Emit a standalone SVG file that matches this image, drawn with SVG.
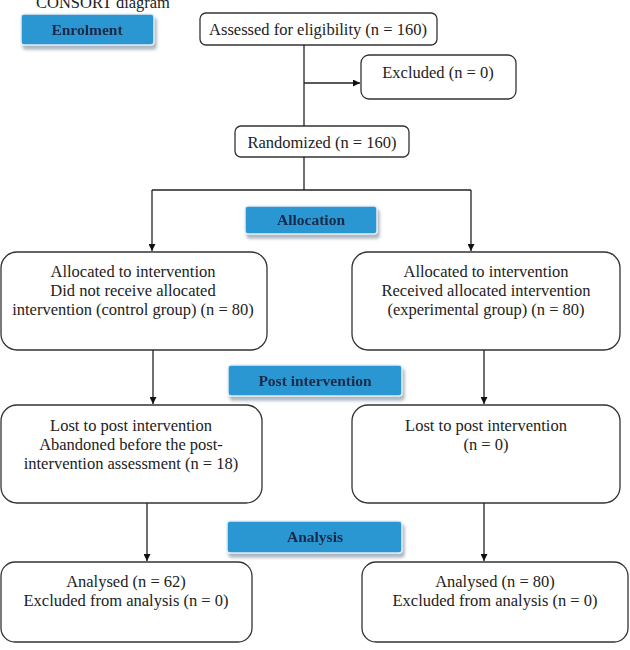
<svg xmlns="http://www.w3.org/2000/svg" width="630" height="650" viewBox="0 0 630 650">
<defs>
<marker id="ah" viewBox="0 0 10 10" refX="10" refY="5" markerWidth="7" markerHeight="7" orient="auto" markerUnits="userSpaceOnUse"><path d="M0,0 L10,5 L0,10 z" fill="#111"/></marker>
<filter id="sh" x="-10%" y="-20%" width="130%" height="160%"><feGaussianBlur in="SourceAlpha" stdDeviation="1.5"/><feOffset dx="2" dy="4" result="b"/><feFlood flood-color="#9aa6b2" flood-opacity="0.8"/><feComposite in2="b" operator="in"/><feMerge><feMergeNode/><feMergeNode in="SourceGraphic"/></feMerge></filter>
</defs>
<style>
.box{fill:#fff;stroke:#333;stroke-width:1.3}
.ph{fill:#2a97d3;stroke:#e6eef5;stroke-width:1.5}
.t{font-family:"Liberation Serif","Times New Roman",serif;font-size:16.5px;fill:#222;text-anchor:middle}
.pt{font-family:"Liberation Serif","Times New Roman",serif;font-size:15.5px;font-weight:bold;fill:#1b2a48;text-anchor:middle}
.c{fill:none;stroke:#222;stroke-width:1.3}
</style>
<rect width="630" height="650" fill="#fff"/>
<text class="t" x="103" y="8">CONSORT diagram</text>
<g id="enrolment" filter="url(#sh)"><rect class="ph" x="21" y="14" width="133" height="31" rx="3"/><text class="pt" x="87" y="35">Enrolment</text></g>
<g id="allocation" filter="url(#sh)"><rect class="ph" x="245" y="206" width="132" height="28" rx="3"/><text class="pt" x="311" y="225">Allocation</text></g>
<g id="post" filter="url(#sh)"><rect class="ph" x="228" y="365" width="174" height="31" rx="3"/><text class="pt" x="315" y="386">Post intervention</text></g>
<g id="analysis" filter="url(#sh)"><rect class="ph" x="227" y="521" width="175" height="32" rx="3"/><text class="pt" x="315" y="542">Analysis</text></g>
<g id="assessed"><rect class="box" x="200" y="13" width="237" height="32" rx="6"/><text class="t" x="318" y="35">Assessed for eligibility (n = 160)</text></g>
<g id="excluded"><rect class="box" x="361" y="55" width="155" height="44" rx="8"/><text class="t" x="438" y="78">Excluded (n = 0)</text></g>
<g id="randomized"><rect class="box" x="235" y="126" width="174" height="31" rx="6"/><text class="t" x="322" y="148">Randomized (n = 160)</text></g>
<g id="alloc-control"><rect class="box" x="1" y="252" width="266" height="98" rx="16"/><text class="t" x="133" y="277">Allocated to intervention</text><text class="t" x="133" y="296">Did not receive allocated</text><text class="t" x="133" y="315">intervention (control group) (n = 80)</text></g>
<g id="alloc-exp"><rect class="box" x="352" y="252" width="268" height="98" rx="16"/><text class="t" x="486" y="277">Allocated to intervention</text><text class="t" x="486" y="296">Received allocated intervention</text><text class="t" x="486" y="315">(experimental group) (n = 80)</text></g>
<g id="lost-control"><rect class="box" x="1" y="405" width="261" height="98" rx="16"/><text class="t" x="131" y="431">Lost to post intervention</text><text class="t" x="131" y="450">Abandoned before the post-</text><text class="t" x="131" y="469">intervention assessment (n = 18)</text></g>
<g id="lost-exp"><rect class="box" x="352" y="405" width="268" height="98" rx="16"/><text class="t" x="486" y="431">Lost to post intervention</text><text class="t" x="486" y="450">(n = 0)</text></g>
<g id="analysed-control"><rect class="box" x="1" y="562" width="251" height="80" rx="14"/><text class="t" x="126" y="587">Analysed (n = 62)</text><text class="t" x="126" y="606">Excluded from analysis (n = 0)</text></g>
<g id="analysed-exp"><rect class="box" x="362" y="562" width="266" height="80" rx="14"/><text class="t" x="495" y="587">Analysed (n = 80)</text><text class="t" x="495" y="606">Excluded from analysis (n = 0)</text></g>
<g id="connectors">
<path class="c" d="M304,45 V126"/>
<path class="c" d="M304,83 H360" marker-end="url(#ah)"/>
<path class="c" d="M304,157 V190"/>
<path class="c" d="M152,190 H471"/>
<path class="c" d="M152,190 V251" marker-end="url(#ah)"/>
<path class="c" d="M471,190 V251" marker-end="url(#ah)"/>
<path class="c" d="M153,350 V404" marker-end="url(#ah)"/>
<path class="c" d="M484,350 V404" marker-end="url(#ah)"/>
<path class="c" d="M147,503 V561" marker-end="url(#ah)"/>
<path class="c" d="M484,503 V561" marker-end="url(#ah)"/>
</g>
</svg>
